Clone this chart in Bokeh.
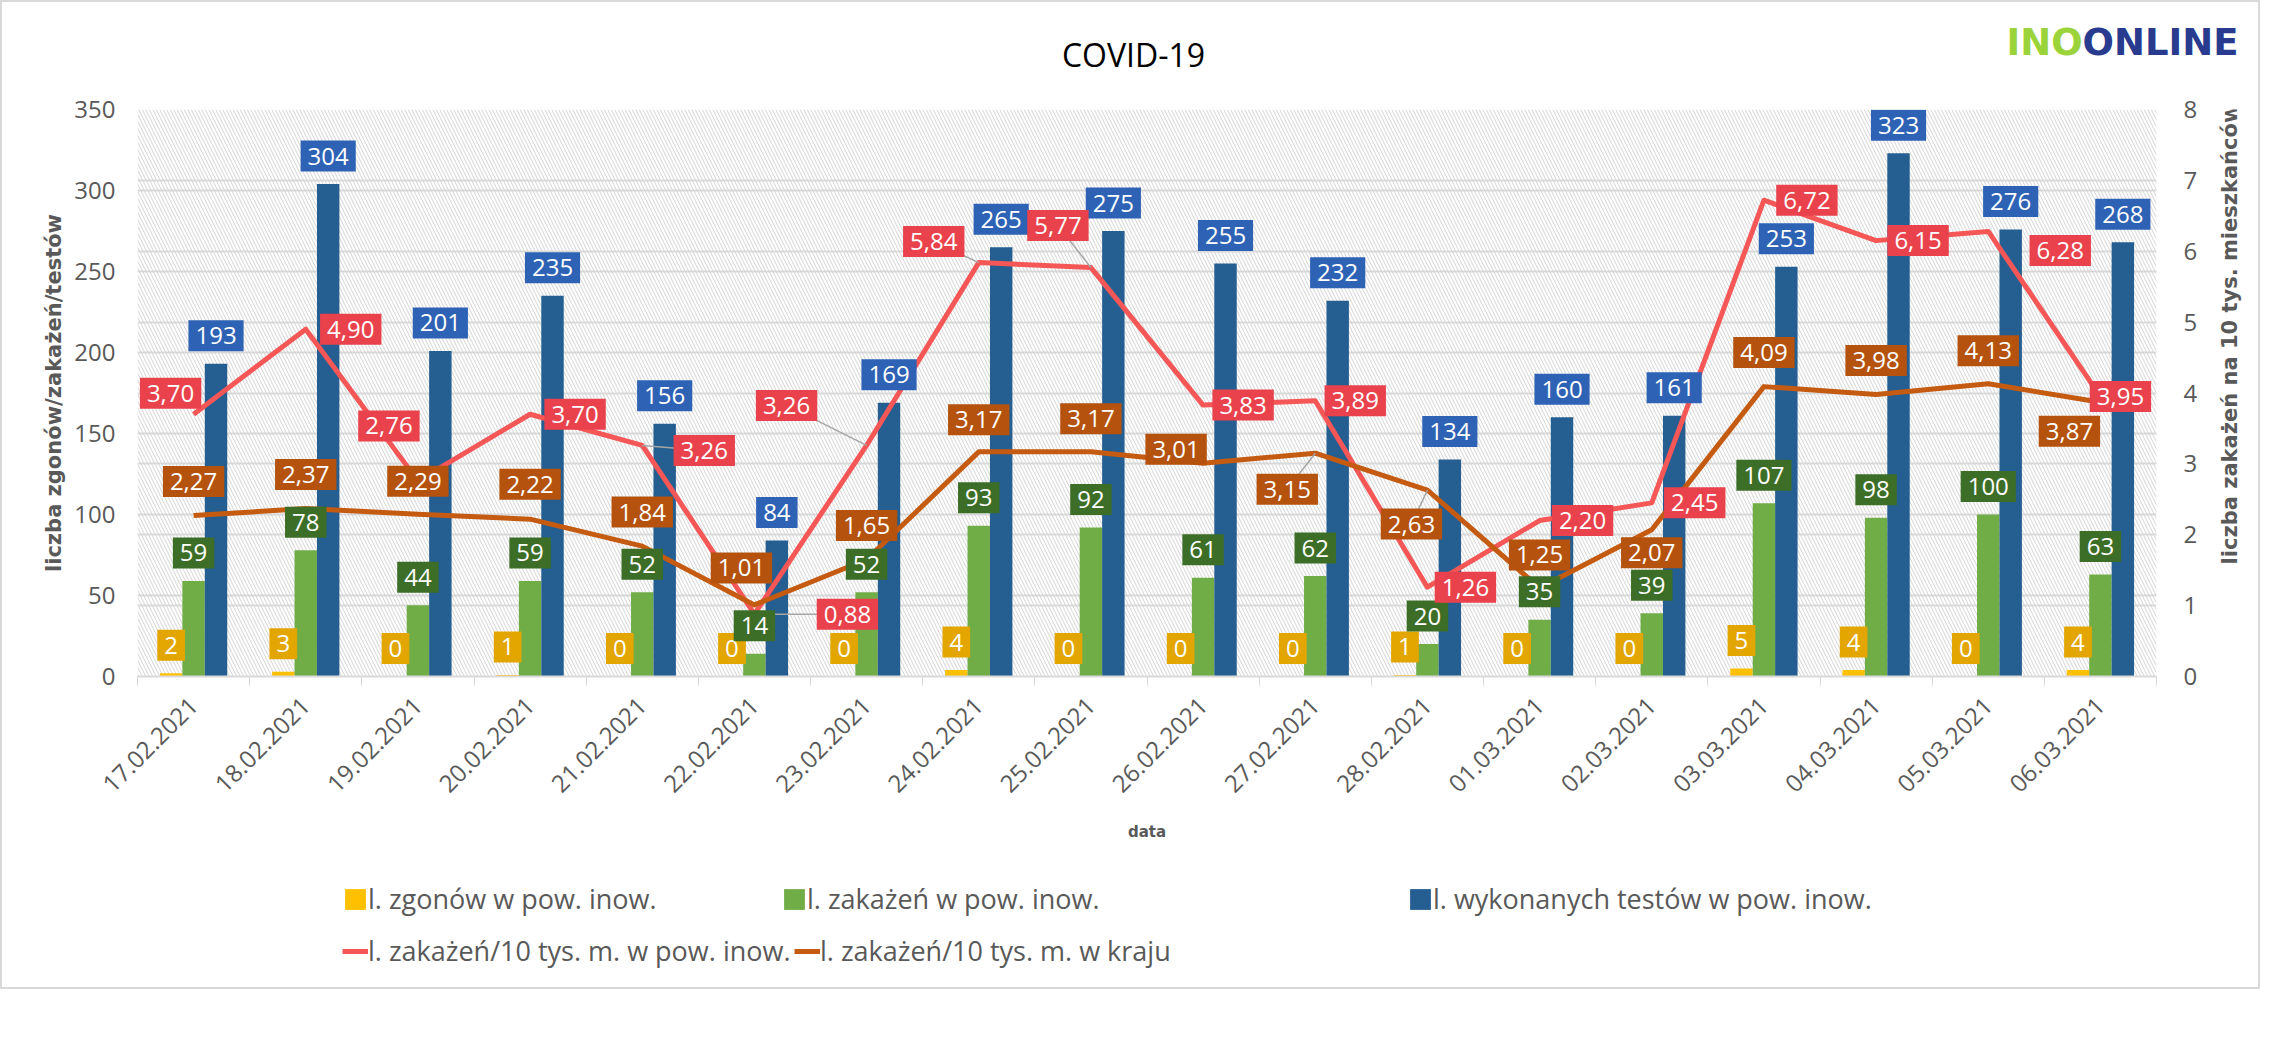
import math
import numpy as np
from bokeh.plotting import figure
from bokeh.layouts import column, row
from bokeh.models import (ColumnDataSource, Range1d, LinearAxis, FixedTicker, Grid,
                          BoxAnnotation, Legend, LegendItem, Label)
from bokeh.transform import dodge
from bokeh.core.properties import value
from bokeh.embed import file_html
from bokeh.resources import INLINE

# ---------------- data ----------------
dates = ["17.02.2021", "18.02.2021", "19.02.2021", "20.02.2021", "21.02.2021", "22.02.2021",
         "23.02.2021", "24.02.2021", "25.02.2021", "26.02.2021", "27.02.2021", "28.02.2021",
         "01.03.2021", "02.03.2021", "03.03.2021", "04.03.2021", "05.03.2021", "06.03.2021"]
deaths = [2, 3, 0, 1, 0, 0, 0, 4, 0, 0, 0, 1, 0, 0, 5, 4, 0, 4]
infections = [59, 78, 44, 59, 52, 14, 52, 93, 92, 61, 62, 20, 35, 39, 107, 98, 100, 63]
tests = [193, 304, 201, 235, 156, 84, 169, 265, 275, 255, 232, 134, 160, 161, 253, 323, 276, 268]
rate_county = [3.70, 4.90, 2.76, 3.70, 3.26, 0.88, 3.26, 5.84, 5.77, 3.83, 3.89, 1.26,
               2.20, 2.45, 6.72, 6.15, 6.28, 3.95]
rate_country = [2.27, 2.37, 2.29, 2.22, 1.84, 1.01, 1.65, 3.17, 3.17, 3.01, 3.15, 2.63,
                1.25, 2.07, 4.09, 3.98, 4.13, 3.87]
left_ticks = [0, 50, 100, 150, 200, 250, 300, 350]
right_ticks = [0, 1, 2, 3, 4, 5, 6, 7, 8]

title_text = "COVID-19"
logo_left, logo_right = "INO", "ONLINE"
left_title = "liczba zgonów/zakażeń/testów"
right_title = "liczba zakażeń na 10 tys. mieszkańców"
x_title = "data"
name_deaths = "l. zgonów w pow. inow."
name_inf = "l. zakażeń w pow. inow."
name_tests = "l. wykonanych testów w pow. inow."
name_county = "l. zakażeń/10 tys. m. w pow. inow."
name_country = "l. zakażeń/10 tys. m. w kraju"

# label placement offsets in pixels (right / up), as placed in the original
county_dx = [-23, 45, -29, 45, 62, 93, -80, -45, -33, 40, 40, 38, 43, 43, 43, 42, 72, 20]
county_dy = [21, 0, 55, 0, -5, 0, 40, 21, 42, 0, 0, 0, 0, 0, 0, 0, -19, 0]
county_leader = [0, 0, 0, 0, 1, 1, 1, 1, 1, 0, 0, 0, 0, 0, 0, 0, 0, 0]
country_dx = [0, 0, 0, 0, 0, -13, 0, 0, 0, -27, -28, -16, 0, 0, 0, 0, 0, -31]
country_dy = [34, 34, 33, 35, 34, 37, 34, 32, 33, 14, -36, -34, 33, -23, 34, 34, 33, -29]
country_leader = [0, 0, 0, 0, 0, 0, 0, 0, 0, 0, 1, 1, 0, 0, 0, 0, 0, 0]

# ---------------- styles ----------------
FONT = "Open Sans"
GRAY = "#595959"
GRID = "#D9D9D9"
C_DEATH, C_INF, C_TEST = "#FFC000", "#70AD47", "#255E91"
C_COUNTY, C_COUNTRY = "#F55656", "#C55A11"
L_DEATH, L_INF, L_TEST = "#E3A600", "#3D6E27", "#2E62B5"
L_COUNTY, L_COUNTRY = "#E9424C", "#B4520E"

TOTAL_W = 2256
TOP_H = 84
FRAME_L, FRAME_R, FRAME_T, FRAME_H, FRAME_B = 135, 2154, 23, 567, 184
MAIN_W = 2210
MAIN_H = FRAME_T + FRAME_H + FRAME_B
STRIP_W = TOTAL_W - MAIN_W
BOT_H = 127

n = len(dates)
xs = list(np.arange(n) + 0.5)
px_x = (FRAME_R - FRAME_L) / n          # pixels per category
px_r = FRAME_H / right_ticks[-1]        # pixels per unit, right scale

def fmt(v):
    return f"{v:.2f}".replace(".", ",")

src = ColumnDataSource(dict(
    x=xs, deaths=deaths, infections=infections, tests=tests,
    county=rate_county, country=rate_country,
    t_deaths=[str(v) for v in deaths], t_inf=[str(v) for v in infections],
    t_tests=[str(v) for v in tests],
    t_county=[fmt(v) for v in rate_county], t_country=[fmt(v) for v in rate_country],
    cdx=county_dx, cdy=[-d for d in county_dy],
    kdx=country_dx, kdy=[-d for d in country_dy],
))

# leader lines from moved labels back to their points
lead = dict(x0=[], y0=[], x1=[], y1=[])
for vals, dxs, dys, flags in ((rate_county, county_dx, county_dy, county_leader),
                              (rate_country, country_dx, country_dy, country_leader)):
    for x, v, dx, dy, f in zip(xs, vals, dxs, dys, flags):
        if f:
            lead["x0"].append(x)
            lead["y0"].append(v)
            lead["x1"].append(x + dx / px_x)
            lead["y1"].append(v + dy / px_r)
lead_src = ColumnDataSource(lead)

def blank(w, h):
    f = figure(width=w, height=h, output_backend="svg", toolbar_location=None,
               x_range=Range1d(0, w), y_range=Range1d(0, h), x_axis_type=None,
               y_axis_type=None, min_border=0, title=None,
               background_fill_color="white", border_fill_color="white")
    f.outline_line_color = None
    return f

# ---------------- header (title + logo) ----------------
top = blank(TOTAL_W, TOP_H)
top.add_layout(Label(x=1131, y=TOP_H - 52, text=title_text, text_font=FONT,
                     text_font_size="32px", text_color="#000000",
                     text_align="center", text_baseline="alphabetic"))
top.add_layout(Label(x=2004, y=TOP_H - 40, text=logo_left, text_font="DejaVu Sans",
                     text_font_style="bold", text_font_size="37px", text_color="#9BD43A",
                     text_baseline="alphabetic"))
top.add_layout(Label(x=2080, y=TOP_H - 40, text=logo_right, text_font="DejaVu Sans",
                     text_font_style="bold", text_font_size="37px", text_color="#283B8E",
                     text_baseline="alphabetic"))

# ---------------- main chart ----------------
p = figure(width=MAIN_W, height=MAIN_H, output_backend="svg", toolbar_location=None,
           x_range=Range1d(0, n), y_range=Range1d(0, left_ticks[-1]), title=None,
           min_border_left=FRAME_L, min_border_right=MAIN_W - FRAME_R, min_border_top=FRAME_T,
           min_border_bottom=FRAME_B,
           background_fill_color="white", border_fill_color="white")
p.outline_line_color = None
p.extra_y_ranges = {"right": Range1d(0, right_ticks[-1])}

# hatched plot area
p.add_layout(BoxAnnotation(fill_alpha=0, line_color=None, hatch_pattern="\\",
                           hatch_color="#D3D3D3", hatch_scale=7, hatch_weight=1,
                           level="underlay"))

# axes
p.xaxis.ticker = FixedTicker(ticks=xs, minor_ticks=list(range(n + 1)))
p.xaxis.major_label_overrides = {float(x): d for x, d in zip(xs, dates)}
p.xaxis.major_label_orientation = math.pi / 4
p.xaxis.major_tick_line_color = None
p.xaxis.major_tick_out = 0
p.xaxis.minor_tick_line_color = GRID
p.xaxis.minor_tick_out = 9
p.xaxis.minor_tick_in = 0
p.xaxis.axis_line_color = GRID
p.xaxis.axis_line_width = 2
p.xaxis.major_label_text_font = FONT
p.xaxis.major_label_text_font_size = "24px"
p.xaxis.major_label_text_color = GRAY
p.xaxis.major_label_standoff = 16
p.xaxis.axis_label = x_title
p.xaxis.axis_label_text_font = "DejaVu Sans"
p.xaxis.axis_label_text_font_size = "15px"
p.xaxis.axis_label_text_font_style = "bold"
p.xaxis.axis_label_text_color = GRAY
p.xaxis.axis_label_standoff = 20

p.yaxis.ticker = FixedTicker(ticks=left_ticks)
p.yaxis.axis_line_color = None
p.yaxis.major_tick_line_color = None
p.yaxis.major_tick_out = 0
p.yaxis.minor_tick_line_color = None
p.yaxis.major_label_text_font = FONT
p.yaxis.major_label_text_font_size = "24px"
p.yaxis.major_label_text_color = GRAY
p.yaxis.major_label_standoff = 22
p.yaxis.axis_label = left_title
p.yaxis.axis_label_text_font = "DejaVu Sans"
p.yaxis.axis_label_text_font_size = "21px"
p.yaxis.axis_label_text_font_style = "bold"
p.yaxis.axis_label_text_color = GRAY
p.yaxis.axis_label_standoff = 5

raxis = LinearAxis(y_range_name="right", ticker=FixedTicker(ticks=right_ticks))
raxis.axis_line_color = None
raxis.major_tick_line_color = None
raxis.major_tick_out = 0
raxis.minor_tick_line_color = None
raxis.major_label_text_font = FONT
raxis.major_label_text_font_size = "24px"
raxis.major_label_text_color = GRAY
raxis.major_label_standoff = 27
p.add_layout(raxis, "right")

# grids (both scales)
p.xgrid.visible = False
p.ygrid.ticker = FixedTicker(ticks=left_ticks)
p.ygrid.grid_line_color = GRID
p.ygrid.grid_line_width = 2
p.add_layout(Grid(dimension=1, ticker=FixedTicker(ticks=right_ticks), y_range_name="right",
                  grid_line_color=GRID, grid_line_width=2))

# bars
bw = 0.2
p.vbar(x=dodge("x", -bw, range=p.x_range), top="deaths", width=bw, source=src,
       fill_color=C_DEATH, line_color=None)
p.vbar(x="x", top="infections", width=bw, source=src, fill_color=C_INF, line_color=None)
p.vbar(x=dodge("x", bw, range=p.x_range), top="tests", width=bw, source=src,
       fill_color=C_TEST, line_color=None)

# lines
p.line(x="x", y="county", source=src, y_range_name="right", line_color=C_COUNTY,
       line_width=5, line_join="round")
p.line(x="x", y="country", source=src, y_range_name="right", line_color=C_COUNTRY,
       line_width=5, line_join="round")

# leader lines
p.segment(x0="x0", y0="y0", x1="x1", y1="y1", source=lead_src, y_range_name="right",
          line_color="#A6A6A6", line_width=1.5)

# data labels
lab_kw = dict(text_align="center", text_baseline="middle", text_color="white",
              text_font=value(FONT), text_font_size="24px", padding=7)
p.text(x=dodge("x", -bw, range=p.x_range), y="deaths", text="t_deaths", source=src,
       y_offset=-28, background_fill_color=L_DEATH, **lab_kw)
p.text(x="x", y="infections", text="t_inf", source=src,
       y_offset=-28, background_fill_color=L_INF, **lab_kw)
p.text(x=dodge("x", bw, range=p.x_range), y="tests", text="t_tests", source=src,
       y_offset=-28, background_fill_color=L_TEST, **lab_kw)
p.text(x="x", y="country", text="t_country", source=src, y_range_name="right",
       x_offset="kdx", y_offset="kdy", background_fill_color=L_COUNTRY, **lab_kw)
p.text(x="x", y="county", text="t_county", source=src, y_range_name="right",
       x_offset="cdx", y_offset="cdy", background_fill_color=L_COUNTY, **lab_kw)

# ---------------- right axis title strip ----------------
strip = blank(STRIP_W, MAIN_H)
strip.add_layout(Label(x=17, y=MAIN_H - (FRAME_T + FRAME_H / 2), text=right_title,
                       angle=math.pi / 2, text_font="DejaVu Sans", text_font_style="bold",
                       text_font_size="21px", text_color=GRAY,
                       text_align="center", text_baseline="middle"))

# ---------------- legend ----------------
bot = blank(TOTAL_W, BOT_H)
# legend swatches (zero-size proxies, nothing visible is drawn)
k_d = bot.vbar(x=[0], top=[0], width=0, fill_color=C_DEATH, line_color=None)
k_i = bot.vbar(x=[0], top=[0], width=0, fill_color=C_INF, line_color=None)
k_t = bot.vbar(x=[0], top=[0], width=0, fill_color=C_TEST, line_color=None)
k_c = bot.line(x=[0], y=[0], line_color=C_COUNTY, line_width=5)
k_k = bot.line(x=[0], y=[0], line_color=C_COUNTRY, line_width=5)
leg_items = [(name_deaths, k_d, 340, 70), (name_inf, k_i, 779, 70),
             (name_tests, k_t, 1405, 70), (name_county, k_c, 340, 18),
             (name_country, k_k, 792, 18)]
for lbl, r, vx, vy in leg_items:
    bot.add_layout(Legend(items=[LegendItem(label=lbl, renderers=[r])], location=(vx, vy),
                          orientation="horizontal", padding=0, margin=0, spacing=0,
                          border_line_color=None, background_fill_alpha=0,
                          glyph_width=26, glyph_height=26, label_height=34,
                          label_standoff=0, label_text_font=FONT,
                          label_text_font_size="27px", label_text_color=GRAY))

layout = column(top, row(p, strip), bot, styles={"border": "2px solid #D9D9D9"})

open("out.html", "w").write(file_html(layout, INLINE))
